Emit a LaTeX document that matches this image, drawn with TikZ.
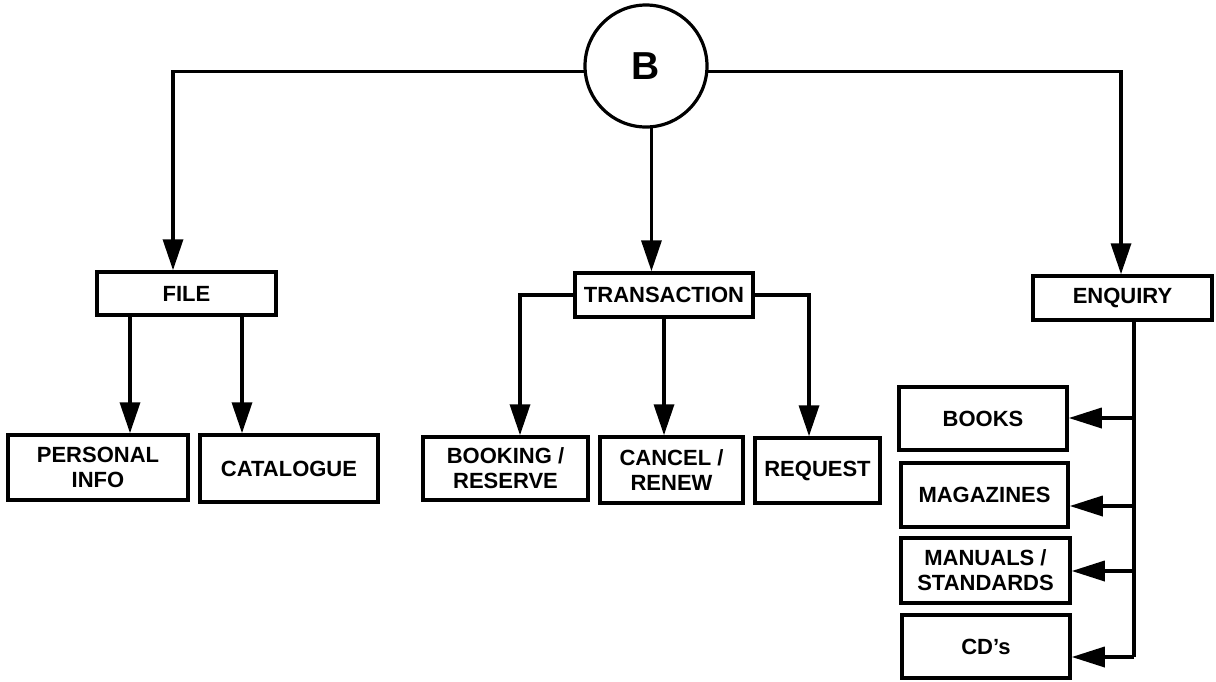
\documentclass[tikz,border=0pt]{standalone}
\usepackage{fontspec}
\setmainfont{Liberation Sans}
\usetikzlibrary{arrows.meta}

\begin{document}
\begin{tikzpicture}[x=1pt,y=-1pt,
  every node/.style={font=\fontsize{22}{25}\selectfont\bfseries},
  menubox/.style={draw, line width=3.5pt, fill=white, inner sep=0pt, align=center},
  link/.style={line width=3.5pt},
  down/.style={link, -{Triangle[width=20pt,length=31pt]}},
  side/.style={link, -{Triangle[width=20pt,length=33pt]}}]
  \useasboundingbox (0,0) rectangle (1216,681);

  % top-level hub
  \node[draw, circle, line width=3.2pt, minimum size=122pt, inner sep=0pt,
        font=\fontsize{39}{40}\selectfont\bfseries] (B) at (646,66) {B};

  % second level
  \node[menubox, minimum width=179pt, minimum height=43pt] (file)  at (186.5,293.5) {FILE};
  \node[menubox, minimum width=178pt, minimum height=44pt] (trans) at (664,295) {TRANSACTION};
  \node[menubox, minimum width=179pt, minimum height=44pt] (enq)   at (1122.5,298) {ENQUIRY};

  % FILE options
  \node[menubox, minimum width=180pt, minimum height=65pt] (pinfo) at (98,467.5) {PERSONAL\\INFO};
  \node[menubox, minimum width=178pt, minimum height=67pt] (cat)   at (289,468.5) {CATALOGUE};

  % TRANSACTION options
  \node[menubox, minimum width=165pt, minimum height=63pt] (book)   at (505.5,468.5) {BOOKING /\\RESERVE};
  \node[menubox, minimum width=143pt, minimum height=66pt] (cancel) at (671.5,470) {CANCEL /\\RENEW};
  \node[menubox, minimum width=125pt, minimum height=65pt] (req)    at (817.5,470.5) {REQUEST};

  % ENQUIRY options
  \node[menubox, minimum width=168pt, minimum height=63pt] (books)   at (983,418.5) {BOOKS};
  \node[menubox, minimum width=167pt, minimum height=64pt] (mags)    at (984.5,495) {MAGAZINES};
  \node[menubox, minimum width=169pt, minimum height=65pt] (manuals) at (985.5,570.5) {MANUALS /\\STANDARDS};
  \node[menubox, minimum width=168pt, minimum height=63pt] (cds)     at (986,646.5) {CD's};

  % hub to second level
  \draw[down] (B.185) -| (173,0 |- file.north);
  \draw[down] (B.275) -- (B.275 |- trans.north);
  \draw[down] (B.355) -| (1121,0 |- enq.north);

  % FILE branches
  \draw[down] (130,0 |- file.south) -- (130,0 |- pinfo.north);
  \draw[down] (242,0 |- file.south) -- (242,0 |- cat.north);

  % TRANSACTION branches
  \draw[down] (trans.west) -| (520,0 |- book.north);
  \draw[down] (trans.south) -- (trans.south |- cancel.north);
  \draw[down] (trans.east) -| (809,0 |- req.north);

  % ENQUIRY trunk and branches
  \coordinate (tb) at (1134,657);
  \draw[link] (1134,0 |- enq.south) -- (tb);
  \draw[side] (1134,418) -- (books.east |- 0,418);
  \draw[side] (1134,506) -- (mags.east |- 0,506);
  \draw[side] (1134,571) -- (manuals.east |- 0,571);
  \draw[side] (tb) -- (cds.east |- tb);
\end{tikzpicture}
\end{document}
